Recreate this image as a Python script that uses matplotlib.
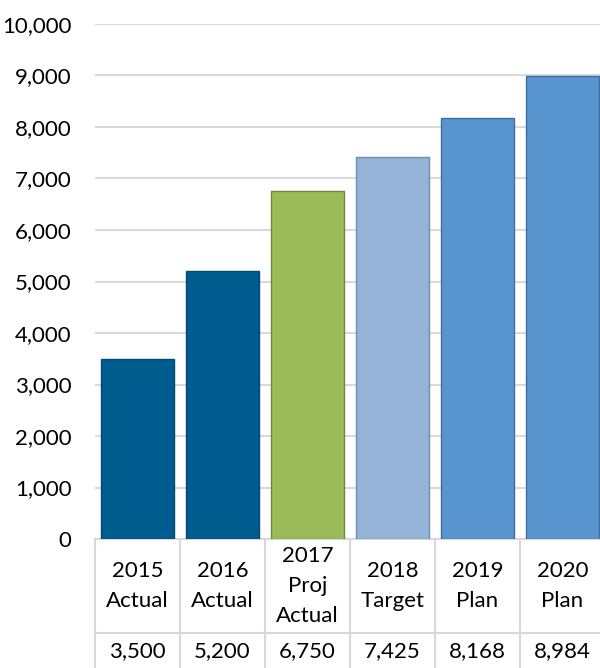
import matplotlib.pyplot as plt
from matplotlib.lines import Line2D

categories = ['2015\nActual', '2016\nActual', '2017\nProj\nActual', '2018\nTarget', '2019\nPlan', '2020\nPlan']
values = [3500, 5200, 6750, 7425, 8168, 8984]
colors = ['#005B8F', '#005B8F', '#9BBB59', '#95B3D7', '#5894CD', '#5894CD']
edges = ['#004A75', '#004A75', '#71893F', '#6E8DB3', '#3F6E9E', '#3F6E9E']

plt.rcParams['font.family'] = ['Lato', 'DejaVu Sans']

W, H = 600, 668
fig = plt.figure(figsize=(W / 100, H / 100), dpi=100)
ax = fig.add_axes([95 / W, (H - 539) / H, 510 / W, 515 / H])

x = list(range(len(values)))
ax.bar(x, values, width=0.87, color=colors, edgecolor=edges, linewidth=1, zorder=3)
ax.set_xlim(-0.5, len(values) - 0.5)
ax.set_ylim(0, 10000)
ax.set_yticks(range(0, 10001, 1000))
ax.set_yticklabels([f'{v:,}' for v in range(0, 10001, 1000)], fontsize=16)
ax.tick_params(axis='y', length=0, pad=17)
ax.set_xticks([])
ax.grid(axis='y', color='#D9D9D9', linewidth=1.5, zorder=0)
for s in ['left', 'right', 'top']:
    ax.spines[s].set_visible(False)
ax.spines['bottom'].set_color('#D9D9D9')
ax.spines['bottom'].set_linewidth(1.5)

# data table under the axis
def fy(py):
    return (H - py) / H

def fx(px):
    return px / W

line_kw = dict(color='#D9D9D9', linewidth=1.5, transform=fig.transFigure)
for i in range(len(values) + 1):
    xp = ax.transData.transform((i - 0.5, 0))[0]
    fig.add_artist(Line2D([fx(xp), fx(xp)], [fy(539), fy(H + 5)], **line_kw))
fig.add_artist(Line2D([fx(95), fx(605)], [fy(633), fy(633)], **line_kw))

for i, (cat, val) in enumerate(zip(categories, values)):
    xp = ax.transData.transform((i, 0))[0]
    fig.text(fx(xp), fy(586), cat, ha='center', va='center', fontsize=16,
             linespacing=1.6)
    fig.text(fx(xp), fy(651), f'{val:,}', ha='center', va='center', fontsize=16)

fig.savefig('out.png', dpi=100)
